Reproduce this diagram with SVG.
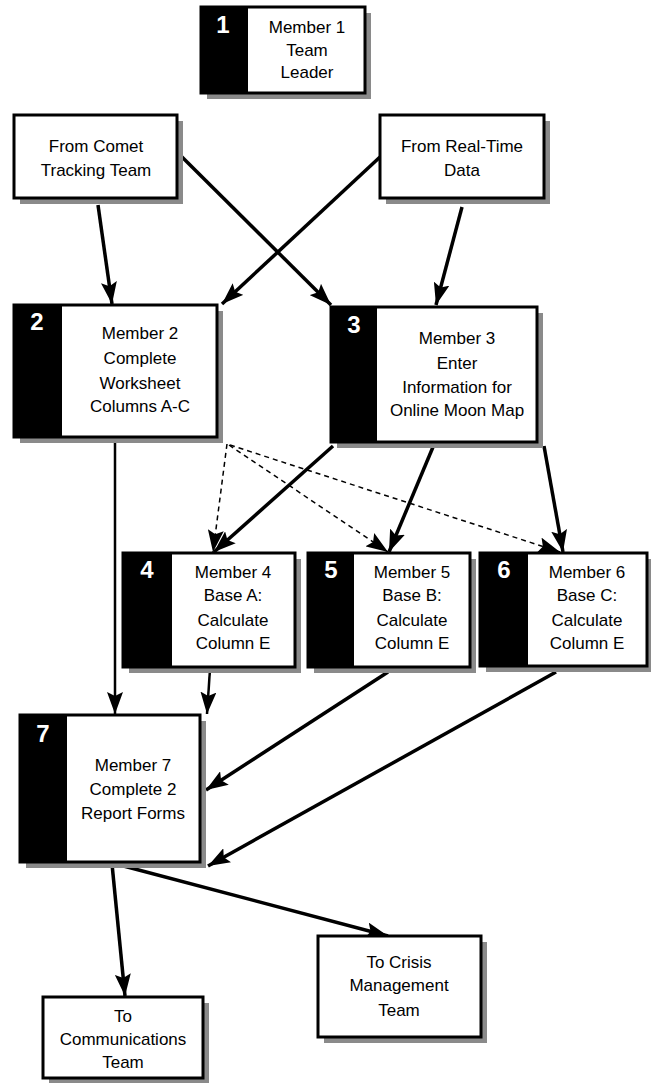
<svg xmlns="http://www.w3.org/2000/svg" width="651" height="1083" viewBox="0 0 651 1083">
<style>
.sh{fill:#8a8a8a}
.bx{fill:#fff;stroke:#000;stroke-width:3}
.st{fill:#000}
.num{font-family:"Liberation Sans",Arial,sans-serif;font-weight:bold;font-size:24px;fill:#fff;text-anchor:middle}
.lb{font-family:"Liberation Sans",Arial,sans-serif;font-size:17px;fill:#000;text-anchor:middle}
.c{stroke:#000;stroke-width:3.5;fill:none}
.t{stroke-width:2.5}
.d{stroke-width:1.5;stroke-dasharray:5 4}
</style>
<defs>
<marker id="ah" markerUnits="userSpaceOnUse" markerWidth="22" markerHeight="16" refX="22" refY="8" orient="auto">
<path d="M0,0 L22,8 L0,16 L4,8 z" fill="#000"/>
</marker>
</defs>
<rect width="651" height="1083" fill="#fff"/>

<g id="connectors">
<line class="c" x1="98" y1="205" x2="112" y2="304" marker-end="url(#ah)"/>
<line class="c" x1="180" y1="155" x2="331" y2="305" marker-end="url(#ah)"/>
<line class="c" x1="380" y1="157" x2="222" y2="304" marker-end="url(#ah)"/>
<line class="c" x1="462" y1="207" x2="436" y2="305" marker-end="url(#ah)"/>
<line class="c t" x1="115" y1="440" x2="115" y2="714" marker-end="url(#ah)"/>
<line class="c" x1="333" y1="446" x2="214" y2="552" marker-end="url(#ah)"/>
<line class="c" x1="433" y1="447" x2="389" y2="552" marker-end="url(#ah)"/>
<line class="c" x1="544" y1="446" x2="563" y2="552" marker-end="url(#ah)"/>
<line class="c d" x1="227" y1="444" x2="213" y2="552" marker-end="url(#ah)"/>
<line class="c d" x1="229" y1="445" x2="388" y2="552" marker-end="url(#ah)"/>
<line class="c d" x1="230" y1="445" x2="560" y2="552" marker-end="url(#ah)"/>
<line class="c t" x1="210" y1="669" x2="207" y2="714" marker-end="url(#ah)"/>
<line class="c" x1="388" y1="672" x2="206" y2="790" marker-end="url(#ah)"/>
<line class="c" x1="556" y1="672" x2="208" y2="866" marker-end="url(#ah)"/>
<line class="c" x1="112" y1="864" x2="125" y2="996" marker-end="url(#ah)"/>
<line class="c" x1="116" y1="864" x2="388" y2="936" marker-end="url(#ah)"/>
</g>

<g id="n1">
<rect class="sh" x="207" y="13" width="164" height="86"/>
<rect class="bx" x="201" y="7" width="164" height="86"/>
<rect class="st" x="201" y="7" width="47" height="86"/>
<text class="num" x="223" y="33">1</text>
<text class="lb" x="307" y="33">Member 1</text>
<text class="lb" x="307" y="56">Team</text>
<text class="lb" x="307" y="78">Leader</text>
</g>

<g id="comet">
<rect class="sh" x="20" y="121" width="163" height="83"/>
<rect class="bx" x="14" y="115" width="163" height="83"/>
<text class="lb" x="96" y="152">From Comet</text>
<text class="lb" x="96" y="176">Tracking Team</text>
</g>

<g id="realtime">
<rect class="sh" x="386" y="121" width="164" height="83"/>
<rect class="bx" x="380" y="115" width="164" height="83"/>
<text class="lb" x="462" y="152">From Real-Time</text>
<text class="lb" x="462" y="176">Data</text>
</g>

<g id="n2">
<rect class="sh" x="20" y="311" width="203" height="132"/>
<rect class="bx" x="14" y="305" width="203" height="132"/>
<rect class="st" x="14" y="305" width="48" height="132"/>
<text class="num" x="37" y="330">2</text>
<text class="lb" x="140" y="339">Member 2</text>
<text class="lb" x="140" y="364">Complete</text>
<text class="lb" x="140" y="389">Worksheet</text>
<text class="lb" x="140" y="412">Columns A-C</text>
</g>

<g id="n3">
<rect class="sh" x="337" y="313" width="206" height="135"/>
<rect class="bx" x="331" y="307" width="206" height="135"/>
<rect class="st" x="331" y="307" width="46" height="135"/>
<text class="num" x="354" y="333">3</text>
<text class="lb" x="457" y="344">Member 3</text>
<text class="lb" x="457" y="369">Enter</text>
<text class="lb" x="457" y="393">Information for</text>
<text class="lb" x="457" y="416">Online Moon Map</text>
</g>

<g id="n4">
<rect class="sh" x="129" y="559" width="172" height="114"/>
<rect class="bx" x="123" y="553" width="172" height="114"/>
<rect class="st" x="123" y="553" width="49" height="114"/>
<text class="num" x="147" y="578">4</text>
<text class="lb" x="233" y="578">Member 4</text>
<text class="lb" x="233" y="601">Base A:</text>
<text class="lb" x="233" y="626">Calculate</text>
<text class="lb" x="233" y="649">Column E</text>
</g>

<g id="n5">
<rect class="sh" x="314" y="559" width="162" height="114"/>
<rect class="bx" x="308" y="553" width="162" height="114"/>
<rect class="st" x="308" y="553" width="46" height="114"/>
<text class="num" x="331" y="578">5</text>
<text class="lb" x="412" y="578">Member 5</text>
<text class="lb" x="412" y="601">Base B:</text>
<text class="lb" x="412" y="626">Calculate</text>
<text class="lb" x="412" y="649">Column E</text>
</g>

<g id="n6">
<rect class="sh" x="486" y="559" width="167" height="113"/>
<rect class="bx" x="480" y="553" width="167" height="113"/>
<rect class="st" x="480" y="553" width="48" height="113"/>
<text class="num" x="504" y="578">6</text>
<text class="lb" x="587" y="578">Member 6</text>
<text class="lb" x="587" y="601">Base C:</text>
<text class="lb" x="587" y="626">Calculate</text>
<text class="lb" x="587" y="649">Column E</text>
</g>

<g id="n7">
<rect class="sh" x="26" y="721" width="180" height="147"/>
<rect class="bx" x="20" y="715" width="180" height="147"/>
<rect class="st" x="20" y="715" width="47" height="147"/>
<text class="num" x="43" y="742">7</text>
<text class="lb" x="133" y="771">Member 7</text>
<text class="lb" x="133" y="795">Complete 2</text>
<text class="lb" x="133" y="819">Report Forms</text>
</g>

<g id="comm">
<rect class="sh" x="49" y="1003" width="160" height="81"/>
<rect class="bx" x="43" y="997" width="160" height="81"/>
<text class="lb" x="123" y="1022">To</text>
<text class="lb" x="123" y="1045">Communications</text>
<text class="lb" x="123" y="1068">Team</text>
</g>

<g id="crisis">
<rect class="sh" x="324" y="942" width="163" height="101"/>
<rect class="bx" x="318" y="936" width="163" height="101"/>
<text class="lb" x="399" y="968">To Crisis</text>
<text class="lb" x="399" y="991">Management</text>
<text class="lb" x="399" y="1016">Team</text>
</g>
</svg>
